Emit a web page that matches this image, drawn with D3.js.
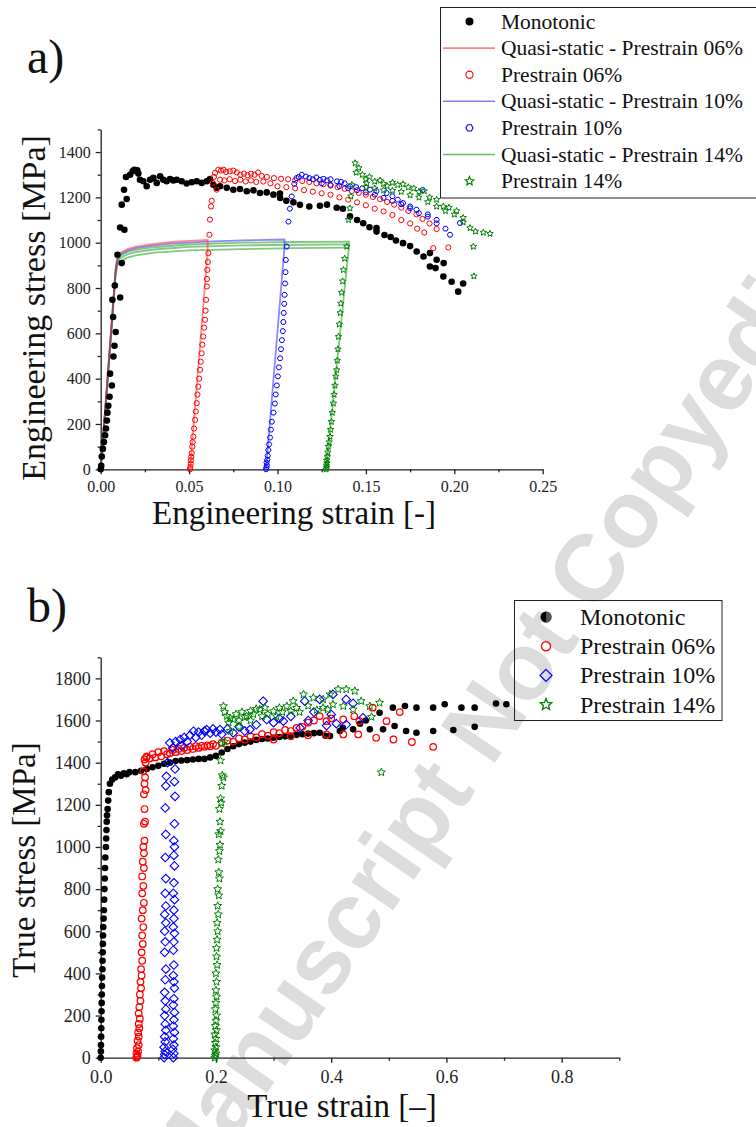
<!DOCTYPE html>
<html lang="en">
<head>
    <meta charset="UTF-8">
    <title>Prestrain stress-strain curves</title>
    <script src="https://d3js.org/d3.v7.min.js"></script>
    <style>
        body {
            margin: 0;
            padding: 0;
            background-color: #fff;
        }
        .domain, .tick line {
            stroke: #222;
            stroke-width: 1.3;
        }
    </style>
</head>
<body>
    <svg id="chart" width="756" height="1127"></svg>

    <script>
        // ---- a) engineering stress / strain ----
        const engXTicks = [0, 0.05, 0.10, 0.15, 0.20, 0.25];
        const engXMinor = [0.025, 0.075, 0.125, 0.175, 0.225];
        const engYTicks = [0, 200, 400, 600, 800, 1000, 1200, 1400];
        const engYMinor = [100, 300, 500, 700, 900, 1100, 1300, 1500];

        const monoEng = [
            [0.0000, 0], [0.0003, 15], [0.0006, 56], [0.0012, 90], [0.0018, 120], [0.0025, 150],
            [0.0030, 180], [0.0035, 215], [0.0038, 250], [0.0043, 280], [0.0050, 320], [0.0063, 370],
            [0.0053, 422], [0.0072, 498], [0.0078, 545], [0.0085, 606], [0.0070, 672], [0.0066, 748],
            [0.0110, 758], [0.0080, 811], [0.0095, 947], [0.0119, 910], [0.0110, 1067], [0.0134, 1057],
            [0.0119, 1168], [0.0132, 1234], [0.0147, 1193], [0.0143, 1290], [0.0166, 1300], [0.0181, 1315],
            [0.0190, 1322], [0.0207, 1320], [0.0213, 1305],
            [0.0222, 1278], [0.0241, 1271], [0.0260, 1249], [0.0279, 1278], [0.0298, 1286], [0.0317, 1264],
            [0.0336, 1293], [0.0354, 1278], [0.0373, 1271], [0.0392, 1281], [0.0411, 1275], [0.0430, 1278],
            [0.0458, 1271], [0.0486, 1261], [0.0515, 1267], [0.0543, 1271], [0.0571, 1264], [0.0600, 1271],
            [0.0618, 1281], [0.0637, 1256], [0.0656, 1242], [0.0675, 1249], [0.0713, 1242], [0.0750, 1234],
            [0.0788, 1237], [0.0826, 1227], [0.0864, 1231], [0.0901, 1219], [0.0939, 1222], [0.0977, 1212],
            [0.1014, 1217], [0.1015, 1197], [0.1050, 1185], [0.1090, 1178], [0.1127, 1167], [0.1180, 1160],
            [0.1240, 1163], [0.1280, 1168], [0.1335, 1154], [0.1370, 1150], [0.1410, 1116], [0.1450, 1100],
            [0.1485, 1086], [0.1520, 1068], [0.1560, 1049], [0.1560, 1065], [0.1605, 1034], [0.1640, 1025],
            [0.1670, 1010], [0.1710, 998], [0.1750, 985], [0.1787, 961], [0.1826, 939], [0.1862, 954],
            [0.1862, 895], [0.1894, 888], [0.1900, 925], [0.1940, 910], [0.1938, 851], [0.1985, 828],
            [0.2022, 784], [0.2050, 820]
        ];

        const pre06Eng = [
            [0.0505, 0], [0.0507, 10], [0.0509, 25], [0.0510, 40], [0.0512, 55], [0.0515, 71], [0.0518, 100],
            [0.0520, 120], [0.0524, 144], [0.0528, 180], [0.0534, 218], [0.0538, 255], [0.0543, 292],
            [0.0547, 330], [0.0552, 365], [0.0557, 400], [0.0562, 439], [0.0566, 475], [0.0571, 512],
            [0.0575, 550], [0.0580, 586], [0.0585, 625], [0.0590, 660], [0.0593, 700], [0.0596, 748],
            [0.0600, 807], [0.0601, 840], [0.0603, 880], [0.0606, 915], [0.0609, 954], [0.0615, 1035],
            [0.0618, 1102], [0.0624, 1160], [0.0628, 1185], [0.0633, 1264], [0.0640, 1290], [0.0647, 1308],
            [0.0665, 1322], [0.0680, 1318], [0.0695, 1322], [0.0710, 1312], [0.0730, 1315], [0.0750, 1318],
            [0.0770, 1310], [0.0790, 1300], [0.0810, 1305], [0.0830, 1298], [0.0850, 1305], [0.0870, 1300],
            [0.0890, 1310], [0.0910, 1295], [0.0940, 1290], [0.0980, 1285], [0.1020, 1282], [0.1060, 1280],
            [0.1100, 1275], [0.1140, 1272], [0.1180, 1268], [0.1220, 1262], [0.1260, 1258], [0.1300, 1252],
            [0.1340, 1245], [0.1380, 1238], [0.1420, 1228], [0.1460, 1220], [0.1500, 1212], [0.1540, 1202],
            [0.1580, 1192], [0.1620, 1180], [0.1660, 1168], [0.1700, 1155], [0.1740, 1140], [0.1786, 1125],
            [0.1820, 1105], [0.1860, 1085], [0.1900, 1060], [0.1966, 979],
            [0.0656, 1234], [0.0675, 1278], [0.0700, 1275], [0.0730, 1280], [0.0760, 1272], [0.0790, 1278],
            [0.0820, 1270], [0.0850, 1275], [0.0880, 1268], [0.0920, 1270], [0.0960, 1262], [0.1000, 1249],
            [0.1050, 1245], [0.1100, 1240], [0.1150, 1232], [0.1200, 1225], [0.1250, 1218], [0.1300, 1212],
            [0.1350, 1200], [0.1400, 1190], [0.1450, 1178], [0.1500, 1165], [0.1550, 1150], [0.1600, 1138],
            [0.1650, 1122], [0.1700, 1100], [0.1750, 1085], [0.1790, 1062], [0.1830, 1045], [0.1881, 976]
        ];

        const pre10Eng = [
            [0.0935, 0], [0.0937, 8], [0.0940, 18], [0.0938, 30], [0.0942, 42], [0.0945, 60], [0.0948, 85],
            [0.0952, 110], [0.0958, 140], [0.0963, 175], [0.0968, 210], [0.0977, 250], [0.0985, 290],
            [0.0990, 330], [0.0996, 370], [0.1002, 410], [0.1008, 450], [0.1015, 490], [0.1020, 530],
            [0.1025, 570], [0.1030, 610], [0.1033, 650], [0.1035, 690], [0.1038, 730], [0.1040, 770],
            [0.1043, 820], [0.1045, 870], [0.1047, 924], [0.1052, 983], [0.1062, 1093], [0.1070, 1150],
            [0.1080, 1204], [0.1095, 1260], [0.1108, 1285], [0.1120, 1290], [0.1137, 1300], [0.1160, 1292],
            [0.1180, 1285], [0.1200, 1280], [0.1220, 1288], [0.1240, 1278], [0.1260, 1282], [0.1280, 1275],
            [0.1300, 1280], [0.1336, 1271], [0.1360, 1268], [0.1380, 1262], [0.1410, 1249], [0.1445, 1245],
            [0.1480, 1240], [0.1523, 1234], [0.1560, 1228], [0.1617, 1219], [0.1650, 1205], [0.1680, 1190],
            [0.1710, 1175], [0.1750, 1160], [0.1786, 1146], [0.1820, 1232], [0.1850, 1125], [0.1900, 1101],
            [0.1976, 1035], [0.2032, 1087],
            [0.1250, 1262], [0.1300, 1255], [0.1350, 1250], [0.1400, 1240], [0.1450, 1232], [0.1500, 1222],
            [0.1550, 1212], [0.1600, 1198], [0.1650, 1185], [0.1700, 1170], [0.1750, 1152], [0.1800, 1130],
            [0.1850, 1115], [0.1900, 1085], [0.1950, 1062]
        ];

        const pre14Eng = [
            [0.1275, 0], [0.1278, 8], [0.1276, 18], [0.1280, 28], [0.1278, 40], [0.1282, 55], [0.1285, 75],
            [0.1288, 100], [0.1292, 120], [0.1297, 144], [0.1300, 175], [0.1305, 210], [0.1310, 250],
            [0.1316, 291], [0.1320, 330], [0.1325, 370], [0.1330, 410], [0.1335, 438], [0.1338, 480],
            [0.1342, 530], [0.1345, 585], [0.1350, 640], [0.1355, 690], [0.1358, 732], [0.1363, 780],
            [0.1368, 830], [0.1373, 880], [0.1380, 930], [0.1392, 983], [0.1402, 1101], [0.1410, 1152],
            [0.1415, 1205], [0.1421, 1255], [0.1439, 1351], [0.1445, 1310], [0.1460, 1330], [0.1480, 1300],
            [0.1500, 1280], [0.1504, 1262], [0.1520, 1290], [0.1550, 1270], [0.1580, 1275], [0.1600, 1260],
            [0.1620, 1250], [0.1650, 1265], [0.1680, 1255], [0.1710, 1258], [0.1740, 1245], [0.1770, 1240],
            [0.1800, 1225], [0.1830, 1228], [0.1860, 1200], [0.1900, 1190], [0.1938, 1160], [0.1970, 1155],
            [0.2013, 1140], [0.2050, 1110], [0.2089, 1065], [0.2120, 1050], [0.2164, 1045], [0.2202, 1040],
            [0.2108, 983], [0.2111, 852],
            [0.1500, 1245], [0.1550, 1240], [0.1600, 1232], [0.1650, 1230], [0.1700, 1225], [0.1750, 1210],
            [0.1800, 1200], [0.1850, 1180], [0.1900, 1160], [0.1950, 1140], [0.2000, 1125], [0.2050, 1090]
        ];

        // quasi-static simulation curves
        const qs06 = [
            [0, 0], [0.004, 420], [0.0085, 890], [0.0095, 935], [0.011, 955], [0.015, 972], [0.02, 983],
            [0.03, 995], [0.04, 1003], [0.05, 1008], [0.0605, 1012], [0.0605, 960], [0.0505, 0]
        ];
        const qs10 = [
            [0, 0], [0.004, 415], [0.0085, 885], [0.0095, 930], [0.011, 948], [0.015, 965], [0.02, 976],
            [0.03, 988], [0.04, 996], [0.06, 1005], [0.08, 1010], [0.104, 1014], [0.104, 985], [0.0935, 0]
        ];
        const qs14a = [
            [0, 0], [0.004, 410], [0.0085, 880], [0.0095, 925], [0.011, 942], [0.015, 958], [0.02, 968],
            [0.03, 980], [0.05, 992], [0.08, 1000], [0.11, 1003], [0.1405, 1005], [0.1405, 990], [0.1275, 0]
        ];
        const qs14b = [
            [0, 0], [0.004, 405], [0.0085, 872], [0.0095, 915], [0.011, 932], [0.015, 948], [0.02, 958],
            [0.03, 970], [0.05, 982], [0.08, 988], [0.11, 991], [0.1405, 993]
        ];
        const qs14c = [
            [0, 0], [0.004, 400], [0.0085, 862], [0.0095, 902], [0.011, 918], [0.015, 934], [0.02, 944],
            [0.03, 956], [0.05, 966], [0.08, 972], [0.11, 976], [0.1405, 978]
        ];

        // ---- b) true stress / strain ----
        const trueXTicks = [0, 0.2, 0.4, 0.6, 0.8];
        const trueXMinor = [0.1, 0.3, 0.5, 0.7, 0.9];
        const trueYTicks = [0, 200, 400, 600, 800, 1000, 1200, 1400, 1600, 1800];
        const trueYMinor = [100, 300, 500, 700, 900, 1100, 1300, 1500, 1700, 1900];

        const monoTrue = [
            [0, 0], [0.0003, 30], [0.0005, 60], [0.0008, 100], [0.001, 140], [0.0012, 180], [0.0015, 220],
            [0.0017, 260], [0.002, 300], [0.0022, 340], [0.0025, 380], [0.003, 420], [0.0032, 460],
            [0.0035, 500], [0.0038, 540], [0.004, 580], [0.0045, 620], [0.005, 660], [0.0055, 700],
            [0.006, 750], [0.0065, 800], [0.007, 850], [0.0075, 900], [0.008, 950], [0.009, 1000],
            [0.0095, 1040], [0.01, 1080], [0.0105, 1120], [0.011, 1150], [0.012, 1180], [0.013, 1220],
            [0.014, 1260], [0.016, 1300], [0.02, 1320], [0.025, 1330], [0.03, 1345], [0.035, 1338],
            [0.04, 1350], [0.045, 1345], [0.05, 1355], [0.06, 1355], [0.07, 1362], [0.08, 1370],
            [0.09, 1378], [0.10, 1385], [0.11, 1395], [0.12, 1400], [0.13, 1408], [0.14, 1410],
            [0.15, 1412], [0.16, 1415], [0.17, 1418], [0.18, 1418], [0.19, 1425], [0.2, 1432],
            [0.21, 1448], [0.22, 1465], [0.23, 1478], [0.24, 1488], [0.25, 1495], [0.26, 1500],
            [0.27, 1508], [0.28, 1512], [0.29, 1515], [0.3, 1518], [0.31, 1522], [0.32, 1525],
            [0.33, 1528], [0.34, 1532], [0.35, 1535], [0.36, 1538], [0.37, 1540], [0.38, 1542],
            [0.39, 1528], [0.398, 1526], [0.415, 1550], [0.438, 1558], [0.467, 1558], [0.49, 1558],
            [0.51, 1574], [0.53, 1550], [0.548, 1542], [0.577, 1550], [0.612, 1555], [0.649, 1570],
            [0.45, 1585], [0.46, 1600], [0.42, 1565], [0.484, 1637], [0.507, 1661], [0.528, 1669],
            [0.548, 1661], [0.577, 1661], [0.597, 1677], [0.626, 1661], [0.649, 1661], [0.686, 1681],
            [0.704, 1677]
        ];

        const pre06True = [
            [0.062, 0], [0.063, 5], [0.064, 10], [0.062, 20], [0.065, 30], [0.063, 45], [0.066, 60],
            [0.064, 80], [0.066, 100], [0.065, 120], [0.067, 140], [0.066, 160], [0.068, 185], [0.066, 210],
            [0.067, 240], [0.069, 270], [0.068, 300], [0.070, 330], [0.069, 360], [0.071, 390], [0.070, 420],
            [0.072, 460], [0.071, 500], [0.073, 540], [0.072, 580], [0.074, 620], [0.071, 660], [0.073, 700],
            [0.075, 735], [0.072, 780], [0.074, 815], [0.072, 860], [0.075, 900], [0.073, 930], [0.075, 970],
            [0.074, 1000], [0.076, 1030], [0.075, 1110], [0.077, 1120], [0.076, 1180], [0.075, 1250],
            [0.078, 1270], [0.076, 1300], [0.077, 1330], [0.074, 1360], [0.078, 1400], [0.076, 1415],
            [0.079, 1425], [0.08, 1430], [0.085, 1420], [0.09, 1440], [0.095, 1425], [0.1, 1450],
            [0.105, 1430], [0.11, 1455], [0.115, 1440], [0.12, 1445], [0.125, 1460], [0.13, 1450],
            [0.135, 1465], [0.14, 1455], [0.145, 1470], [0.15, 1460], [0.155, 1475], [0.16, 1465],
            [0.165, 1478], [0.17, 1470], [0.175, 1480], [0.18, 1475], [0.185, 1482], [0.19, 1478],
            [0.195, 1488], [0.2, 1480], [0.21, 1495], [0.22, 1505], [0.23, 1500], [0.24, 1515], [0.25, 1510],
            [0.26, 1525], [0.27, 1520], [0.28, 1535], [0.29, 1528], [0.3, 1545], [0.31, 1540], [0.32, 1555],
            [0.33, 1550], [0.34, 1565], [0.35, 1570], [0.36, 1590], [0.37, 1600], [0.38, 1621], [0.392, 1597],
            [0.40, 1610], [0.421, 1605], [0.44, 1620], [0.449, 1597], [0.472, 1661], [0.496, 1597],
            [0.519, 1640], [0.392, 1534], [0.421, 1534], [0.447, 1534], [0.478, 1518], [0.508, 1510],
            [0.54, 1498], [0.577, 1475], [0.36, 1530], [0.33, 1525], [0.30, 1510]
        ];

        const pre10True = [
            [0.110, 0], [0.111, 15], [0.112, 30], [0.110, 50], [0.112, 75], [0.111, 100], [0.113, 130],
            [0.112, 160], [0.111, 200], [0.113, 230], [0.112, 270], [0.111, 310], [0.112, 370], [0.113, 420],
            [0.111, 500], [0.112, 550], [0.111, 600], [0.113, 640], [0.111, 680], [0.113, 720], [0.112, 780],
            [0.113, 850], [0.112, 950], [0.113, 1060], [0.112, 1185], [0.113, 1290], [0.114, 1335],
            [0.116, 1400],
            [0.126, 0], [0.127, 20], [0.125, 40], [0.127, 60], [0.126, 90], [0.128, 120], [0.126, 150],
            [0.127, 180], [0.128, 215], [0.126, 250], [0.127, 280], [0.128, 330], [0.127, 360], [0.126, 390],
            [0.127, 440], [0.126, 510], [0.127, 550], [0.128, 590], [0.126, 620], [0.127, 660], [0.127, 700],
            [0.128, 750], [0.126, 780], [0.127, 830], [0.128, 910], [0.127, 960], [0.128, 1000], [0.127, 1030],
            [0.128, 1110], [0.129, 1240], [0.128, 1310], [0.129, 1370],
            [0.12, 1494], [0.125, 1470], [0.13, 1500], [0.138, 1510], [0.14, 1480], [0.145, 1520], [0.15, 1500],
            [0.155, 1530], [0.161, 1549], [0.165, 1520], [0.17, 1545], [0.175, 1530], [0.18, 1550],
            [0.184, 1557], [0.19, 1540], [0.195, 1560], [0.2, 1545], [0.207, 1557], [0.21, 1535], [0.22, 1560],
            [0.23, 1541], [0.24, 1570], [0.25, 1550], [0.259, 1557], [0.27, 1580], [0.282, 1692], [0.288, 1605],
            [0.3, 1590], [0.31, 1610], [0.317, 1597], [0.33, 1620], [0.346, 1565], [0.354, 1692], [0.36, 1600],
            [0.37, 1640], [0.38, 1700], [0.392, 1576], [0.4, 1629], [0.403, 1724], [0.409, 1585], [0.426, 1700],
            [0.426, 1581], [0.438, 1681], [0.455, 1613]
        ];

        const pre14True = [
            [0.198, 0], [0.199, 10], [0.2, 20], [0.198, 35], [0.2, 50], [0.199, 70], [0.2, 90], [0.198, 110],
            [0.201, 130], [0.199, 150], [0.2, 175], [0.201, 200], [0.199, 230], [0.2, 260], [0.201, 290],
            [0.2, 320], [0.201, 360], [0.2, 400], [0.202, 440], [0.201, 480], [0.201, 520], [0.202, 560],
            [0.203, 600], [0.202, 640], [0.204, 680], [0.203, 720], [0.205, 770], [0.203, 800], [0.206, 850],
            [0.205, 880], [0.204, 940], [0.206, 980], [0.207, 1010], [0.205, 1060], [0.208, 1075],
            [0.207, 1120], [0.206, 1180], [0.209, 1210], [0.208, 1230], [0.210, 1290], [0.211, 1340],
            [0.213, 1330], [0.208, 1410], [0.21, 1490],
            [0.213, 1668], [0.215, 1640], [0.219, 1621], [0.222, 1590], [0.225, 1610], [0.23, 1605],
            [0.235, 1630], [0.24, 1600], [0.245, 1640], [0.25, 1615], [0.253, 1621], [0.26, 1645],
            [0.265, 1630], [0.27, 1655], [0.276, 1652], [0.28, 1620], [0.285, 1660], [0.29, 1630], [0.3, 1644],
            [0.305, 1620], [0.31, 1660], [0.315, 1640], [0.323, 1668], [0.33, 1645], [0.334, 1692],
            [0.34, 1660], [0.345, 1640], [0.352, 1724], [0.36, 1670], [0.369, 1708], [0.375, 1650],
            [0.386, 1700], [0.386, 1660], [0.394, 1652], [0.398, 1724], [0.403, 1676], [0.412, 1748],
            [0.421, 1668], [0.426, 1748], [0.438, 1652], [0.441, 1740], [0.452, 1692], [0.467, 1668],
            [0.47, 1617], [0.484, 1684], [0.487, 1354], [0.24, 1570], [0.26, 1600], [0.225, 1550], [0.215, 1500]
        ];

        const topLegendLabels = [
            'Monotonic', 'Quasi-static - Prestrain 06%', 'Prestrain 06%', 'Quasi-static - Prestrain 10%',
            'Prestrain 10%', 'Quasi-static - Prestrain 14%', 'Prestrain 14%'
        ];
        const bottomLegendLabels = ['Monotonic', 'Prestrain 06%', 'Prestrain 10%', 'Prestrain 14%'];

        const SERIF = '"Liberation Serif", "Times New Roman", Times, serif';
        const svg = d3.select('#chart').style('font-family', SERIF);

        // marker shapes as svg paths centred on 0,0
        const markerPath = (type, r) => {
            const p = d3.path();
            if (type === 'circle') {
                p.moveTo(r, 0);
                p.arc(0, 0, r, 0, 2 * Math.PI);
            } else if (type === 'hex') {
                for (let i = 0; i < 6; i++) {
                    const a = i * Math.PI / 3;
                    if (i === 0) p.moveTo(r * Math.cos(a), r * Math.sin(a));
                    else p.lineTo(r * Math.cos(a), r * Math.sin(a));
                }
                p.closePath();
            } else if (type === 'diamond') {
                p.moveTo(0, -r); p.lineTo(r, 0); p.lineTo(0, r); p.lineTo(-r, 0);
                p.closePath();
            } else if (type === 'star') {
                for (let i = 0; i < 10; i++) {
                    const rad = i % 2 ? r * 0.45 : r;
                    const a = -Math.PI / 2 + i * Math.PI / 5;
                    if (i === 0) p.moveTo(rad * Math.cos(a), rad * Math.sin(a));
                    else p.lineTo(rad * Math.cos(a), rad * Math.sin(a));
                }
                p.closePath();
            }
            return p.toString();
        };

        const addText = (sel, txt, size) => sel.append('text')
            .style('font-family', SERIF)
            .style('font-size', size + 'px')
            .attr('fill', '#111')
            .text(txt);

        // watermark behind everything, anchored on the "a" of "Manuscript";
        // length is forced so the letters land in place whatever bold face is picked
        const wmSize = 95;
        const wm = svg.append('g').attr('transform', 'translate(228,1106) rotate(-55.4)');
        wm.append('text')
            .attr('x', -5.89 * wmSize)
            .attr('y', 0.26 * wmSize)
            .attr('textLength', 17.78 * wmSize)
            .attr('lengthAdjust', 'spacingAndGlyphs')
            .style('font-family', '"Liberation Sans", Arial, sans-serif')
            .style('font-weight', 'bold')
            .style('font-size', wmSize + 'px')
            .attr('fill', '#dcdcdc')
            .text('Accepted Manuscript Not Copyedited');

        const drawAxes = (x, y, xt, xm, yt, ym, fmt, fs, xPad) => {
            const xAxis = svg.append('g').attr('transform', `translate(0,${y.range()[0]})`)
                .call(d3.axisBottom(x).tickValues(xt).tickFormat(fmt).tickSize(5).tickSizeOuter(0).tickPadding(xPad));
            svg.append('g').attr('transform', `translate(0,${y.range()[0]})`)
                .call(d3.axisBottom(x).tickValues(xm).tickFormat('').tickSize(3).tickSizeOuter(0))
                .select('.domain').remove();
            const yAxis = svg.append('g').attr('transform', `translate(${x.range()[0]},0)`)
                .call(d3.axisLeft(y).tickValues(yt).tickFormat(d3.format('d')).tickSize(5).tickSizeOuter(0).tickPadding(5));
            svg.append('g').attr('transform', `translate(${x.range()[0]},0)`)
                .call(d3.axisLeft(y).tickValues(ym).tickFormat('').tickSize(3).tickSizeOuter(0))
                .select('.domain').remove();
            [xAxis, yAxis].forEach(a => a.selectAll('text')
                .style('font-family', SERIF).style('font-size', fs + 'px').attr('fill', '#222'));
        };

        const drawPoints = (x, y, data, type, r, fill, stroke, sw) => {
            svg.append('g').selectAll('path')
                .data(data)
                .enter()
                .append('path')
                .attr('d', markerPath(type, r))
                .attr('transform', d => `translate(${x(d[0])},${y(d[1])})`)
                .attr('fill', fill)
                .attr('stroke', stroke)
                .attr('stroke-width', sw);
        };

        // ---------- chart a ----------
        const xA = d3.scaleLinear().domain([0, 0.25]).range([100.7, 542.7]);
        const yA = d3.scaleLinear().domain([0, 1500]).range([469.3, 129.4]);
        drawAxes(xA, yA, engXTicks, engXMinor, engYTicks, engYMinor, d3.format('.2f'), 16, 6);

        const lineA = d3.line().x(d => xA(d[0])).y(d => yA(d[1]));
        const qsLines = [
            { data: qs14c, color: '#1a9a1a' }, { data: qs14b, color: '#1a9a1a' }, { data: qs14a, color: '#1a9a1a' },
            { data: qs10, color: '#2a2aff' }, { data: qs06, color: '#ff2a2a' }
        ];
        qsLines.forEach(l => {
            svg.append('path').attr('d', lineA(l.data)).attr('fill', 'none')
                .attr('stroke', l.color).attr('stroke-opacity', 0.55).attr('stroke-width', 1.8);
        });

        drawPoints(xA, yA, monoEng, 'circle', 3.3, '#000', 'none', 0);
        drawPoints(xA, yA, pre06Eng, 'circle', 2.6, 'none', '#ff0000', 1);
        drawPoints(xA, yA, pre10Eng, 'hex', 2.7, 'none', '#0000ff', 1);
        drawPoints(xA, yA, pre14Eng, 'star', 3.4, 'none', '#008000', 1);

        addText(svg, 'Engineering strain [-]', 33).attr('x', 294).attr('y', 524).attr('text-anchor', 'middle');
        addText(svg, 'Engineering stress [MPa]', 34).attr('transform', 'translate(45,308) rotate(-90)')
            .attr('text-anchor', 'middle');
        addText(svg, 'a)', 48).attr('x', 27).attr('y', 73);

        // legend a
        const legA = svg.append('g');
        legA.append('rect').attr('x', 440.5).attr('y', 7.5).attr('width', 320).attr('height', 190.5)
            .attr('fill', '#fff').attr('stroke', '#222').attr('stroke-width', 1);
        const legAStyle = [
            { kind: 'point', type: 'circle', r: 4, fill: '#000', stroke: 'none' },
            { kind: 'line', color: '#ff8080' },
            { kind: 'point', type: 'circle', r: 3.6, fill: 'none', stroke: '#ff0000' },
            { kind: 'line', color: '#8080ff' },
            { kind: 'point', type: 'hex', r: 3.6, fill: 'none', stroke: '#0000ff' },
            { kind: 'line', color: '#66bb66' },
            { kind: 'point', type: 'star', r: 4.6, fill: 'none', stroke: '#008000' }
        ];
        topLegendLabels.forEach((label, i) => {
            const cy = 21.5 + i * 26.6;
            const s = legAStyle[i];
            if (s.kind === 'line') {
                legA.append('line').attr('x1', 443).attr('x2', 495).attr('y1', cy).attr('y2', cy)
                    .attr('stroke', s.color).attr('stroke-width', 1.6);
            } else {
                legA.append('path').attr('d', markerPath(s.type, s.r))
                    .attr('transform', `translate(469.5,${cy})`)
                    .attr('fill', s.fill).attr('stroke', s.stroke).attr('stroke-width', 1.1);
            }
            addText(legA, label, 21.5).attr('x', 501).attr('y', cy + 7);
        });

        // ---------- chart b ----------
        const xB = d3.scaleLinear().domain([0, 0.9]).range([100.7, 619.3]);
        const yB = d3.scaleLinear().domain([0, 1900]).range([1057.7, 657.3]);
        drawAxes(xB, yB, trueXTicks, trueXMinor, trueYTicks, trueYMinor, d3.format('.1f'), 18, 8);

        drawPoints(xB, yB, monoTrue, 'circle', 3.3, '#000', 'none', 0);
        drawPoints(xB, yB, pre06True, 'circle', 3.3, 'none', '#ff0000', 1.2);
        drawPoints(xB, yB, pre10True, 'diamond', 4.3, 'none', '#0000ff', 1.1);
        drawPoints(xB, yB, pre14True, 'star', 4.2, 'none', '#008000', 1);

        addText(svg, 'True strain [\u2013]', 33).attr('x', 342).attr('y', 1117).attr('text-anchor', 'middle');
        addText(svg, 'True stress [MPa]', 33).attr('transform', 'translate(35,860) rotate(-90)')
            .attr('text-anchor', 'middle');
        addText(svg, 'b)', 48).attr('x', 27).attr('y', 622);

        // legend b
        const legB = svg.append('g');
        legB.append('rect').attr('x', 514.5).attr('y', 600.5).attr('width', 207.5).attr('height', 120)
            .attr('fill', 'none').attr('stroke', '#222').attr('stroke-width', 1);
        const legBStyle = [
            { type: 'circle', r: 5.5, fill: '#000', stroke: 'none' },
            { type: 'circle', r: 4.6, fill: 'none', stroke: '#ff0000' },
            { type: 'diamond', r: 6, fill: 'none', stroke: '#0000ff' },
            { type: 'star', r: 6, fill: 'none', stroke: '#008000' }
        ];
        bottomLegendLabels.forEach((label, i) => {
            const cy = 617 + i * 29.2;
            const s = legBStyle[i];
            legB.append('path').attr('d', markerPath(s.type, s.r))
                .attr('transform', `translate(546,${cy})`)
                .attr('fill', s.fill).attr('stroke', s.stroke).attr('stroke-width', 1.3);
            if (i === 0) {
                legB.append('path').attr('d', 'M0,-5.5A5.5,5.5 0 0,1 0,5.5Z')
                    .attr('transform', `translate(546,${cy})`).attr('fill', '#555');
            }
            addText(legB, label, 24).attr('x', 580).attr('y', cy + 8);
        });
    </script>
</body>
</html>
